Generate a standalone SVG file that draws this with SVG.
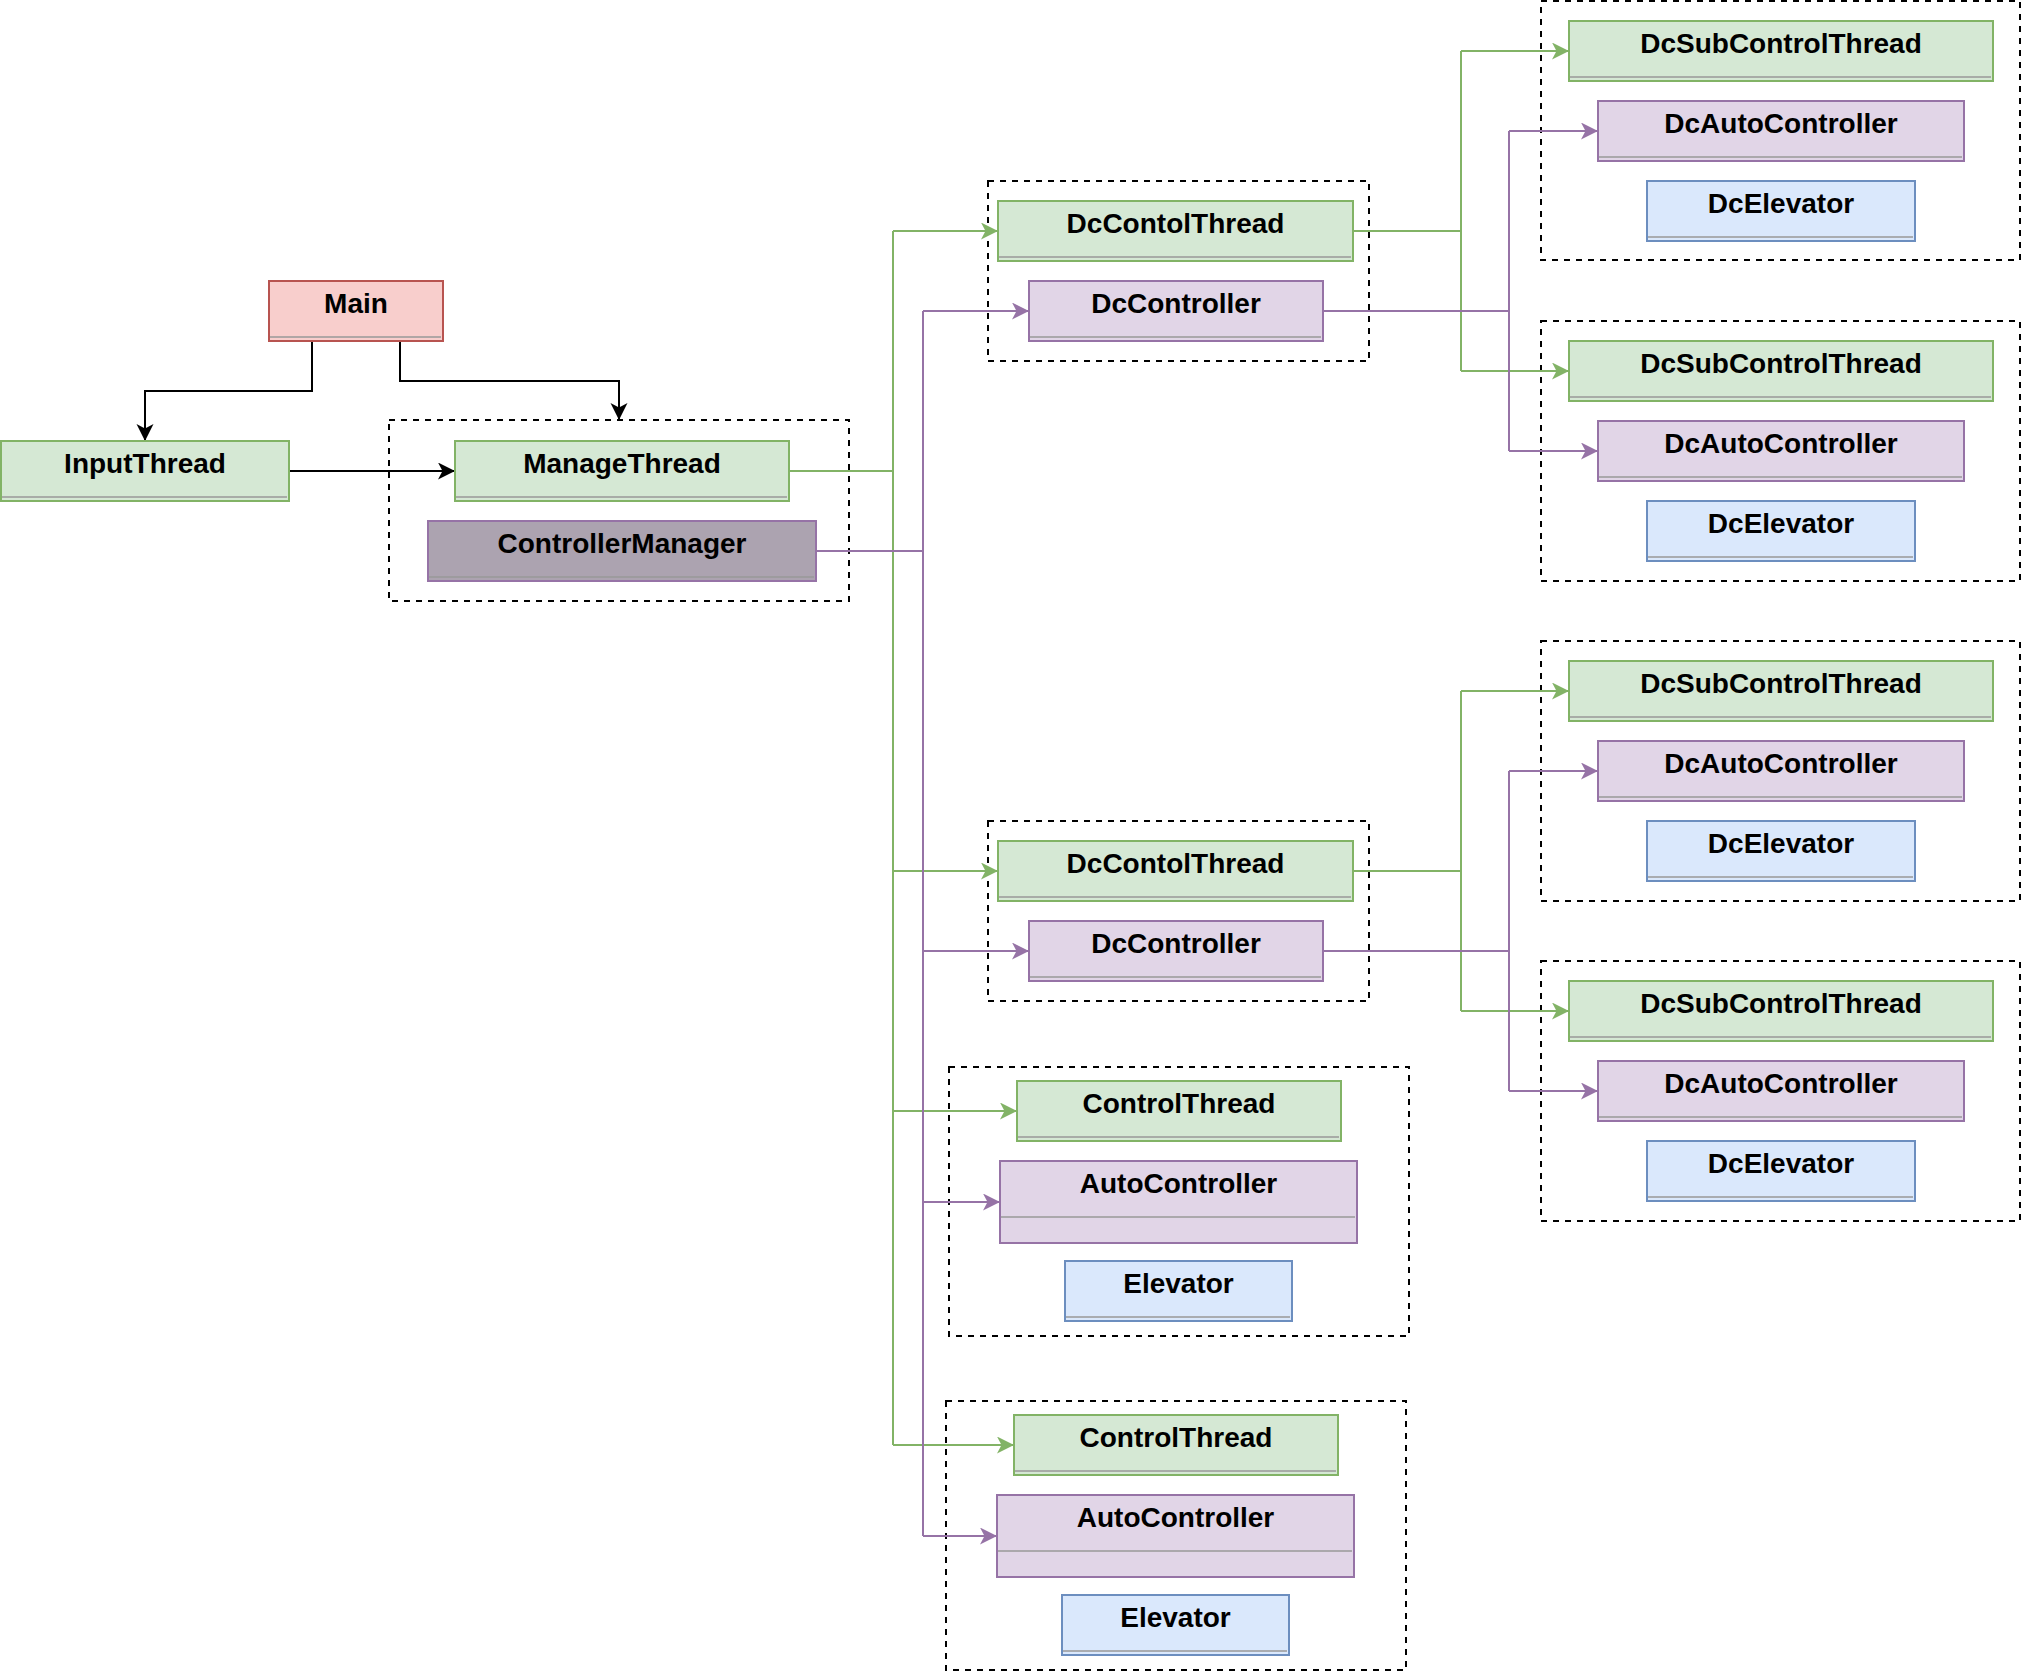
<svg xmlns="http://www.w3.org/2000/svg" width="2022" height="1672" viewBox="0 0 2022 1672">
<style>
  text { font-family: "Liberation Sans", Arial, Helvetica, sans-serif; font-weight: bold; font-size: 28px; text-anchor: middle; fill: #000000; }
  .node rect { stroke-width: 2; }
  .node line { stroke: #999999; stroke-width: 1.5; }
  .green rect { fill: #d5e8d4; stroke: #82b366; }
  .purple rect { fill: #e1d5e7; stroke: #9673a6; }
  .blue rect { fill: #dae8fc; stroke: #6c8ebf; }
  .red rect { fill: #f8cecc; stroke: #b85450; }
  .mgr rect { fill: #aca3b0; stroke: #9673a6; }
  .box { fill: none; stroke: #000000; stroke-width: 2; stroke-dasharray: 6 6; }
  .c { fill: none; stroke-width: 2; }
  .ck { stroke: #000000; marker-end: url(#ak); }
  .cg { stroke: #82b366; }
  .cp { stroke: #9673a6; }
  .ag { marker-end: url(#ag); }
  .ap { marker-end: url(#ap); }
</style>
<defs>
  <marker id="ak" markerUnits="userSpaceOnUse" markerWidth="18" markerHeight="18" refX="17" refY="8.5" orient="auto" viewBox="0 0 18 18"><path d="M0,0 L17,8.5 L0,17 L4.5,8.5 Z" fill="#000000"/></marker>
  <marker id="ag" markerUnits="userSpaceOnUse" markerWidth="18" markerHeight="18" refX="17" refY="8.5" orient="auto" viewBox="0 0 18 18"><path d="M0,0 L17,8.5 L0,17 L4.5,8.5 Z" fill="#82b366"/></marker>
  <marker id="ap" markerUnits="userSpaceOnUse" markerWidth="18" markerHeight="18" refX="17" refY="8.5" orient="auto" viewBox="0 0 18 18"><path d="M0,0 L17,8.5 L0,17 L4.5,8.5 Z" fill="#9673a6"/></marker>
</defs>
<rect x="0" y="0" width="2022" height="1672" fill="#ffffff"/>

<g id="containers">
  <rect id="grp-manage" class="box" x="389" y="420" width="460" height="181"/>
  <rect id="grp-dc1" class="box" x="988" y="181" width="381" height="180"/>
  <rect id="grp-dc2" class="box" x="988" y="821" width="381" height="180"/>
  <rect id="grp-sub1" class="box" x="1541" y="1" width="479" height="259"/>
  <rect id="grp-sub2" class="box" x="1541" y="321" width="479" height="260"/>
  <rect id="grp-sub3" class="box" x="1541" y="641" width="479" height="260"/>
  <rect id="grp-sub4" class="box" x="1541" y="961" width="479" height="260"/>
  <rect id="grp-ct1" class="box" x="949" y="1067" width="460" height="269"/>
  <rect id="grp-ct2" class="box" x="946" y="1401" width="460" height="269"/>
</g>

<g id="connectors">
  <path class="c ck" d="M312,341 V391 H145 V441"/>
  <path class="c ck" d="M400,341 V381 H619 V420"/>
  <path class="c ck" d="M289,471 H455"/>

  <path class="c cg" d="M789,471 H893"/>
  <path class="c cg" d="M893,231 V1445"/>
  <path class="c cg ag" d="M893,231 H998"/>
  <path class="c cg ag" d="M893,871 H998"/>
  <path class="c cg ag" d="M893,1111 H1017"/>
  <path class="c cg ag" d="M893,1445 H1014"/>

  <path class="c cp" d="M816,551 H923"/>
  <path class="c cp" d="M923,311 V1536"/>
  <path class="c cp ap" d="M923,311 H1029"/>
  <path class="c cp ap" d="M923,951 H1029"/>
  <path class="c cp ap" d="M923,1202 H1000"/>
  <path class="c cp ap" d="M923,1536 H997"/>

  <path class="c cg" d="M1353,231 H1461 M1461,51 V371"/>
  <path class="c cg ag" d="M1461,51 H1569"/>
  <path class="c cg ag" d="M1461,371 H1569"/>
  <path class="c cp" d="M1323,311 H1509 M1509,131 V451"/>
  <path class="c cp ap" d="M1509,131 H1598"/>
  <path class="c cp ap" d="M1509,451 H1598"/>

  <path class="c cg" d="M1353,871 H1461 M1461,691 V1011"/>
  <path class="c cg ag" d="M1461,691 H1569"/>
  <path class="c cg ag" d="M1461,1011 H1569"/>
  <path class="c cp" d="M1323,951 H1509 M1509,771 V1091"/>
  <path class="c cp ap" d="M1509,771 H1598"/>
  <path class="c cp ap" d="M1509,1091 H1598"/>
</g>

<g id="main" class="node red"><rect x="269" y="281" width="174" height="60"/><line x1="270" y1="337" x2="441" y2="337"/><text x="356" y="313">Main</text></g>
<g id="inputThread" class="node green"><rect x="1" y="441" width="288" height="60"/><line x1="2" y1="497" x2="287" y2="497"/><text x="145" y="473">InputThread</text></g>
<g id="manageThread" class="node green"><rect x="455" y="441" width="334" height="60"/><line x1="456" y1="497" x2="787" y2="497"/><text x="622" y="473">ManageThread</text></g>
<g id="controllerManager" class="node mgr"><rect x="428" y="521" width="388" height="60"/><line x1="429" y1="577" x2="814" y2="577"/><text x="622" y="553">ControllerManager</text></g>

<g id="dcControlThread1" class="node green"><rect x="998" y="201" width="355" height="60"/><line x1="999" y1="257" x2="1351" y2="257"/><text x="1175.5" y="233">DcContolThread</text></g>
<g id="dcController1" class="node purple"><rect x="1029" y="281" width="294" height="60"/><line x1="1030" y1="337" x2="1321" y2="337"/><text x="1176" y="313">DcController</text></g>

<g id="dcSubControlThread1" class="node green"><rect x="1569" y="21" width="424" height="60"/><line x1="1570" y1="77" x2="1991" y2="77"/><text x="1781" y="53">DcSubControlThread</text></g>
<g id="dcAutoController1" class="node purple"><rect x="1598" y="101" width="366" height="60"/><line x1="1599" y1="157" x2="1962" y2="157"/><text x="1781" y="133">DcAutoController</text></g>
<g id="dcElevator1" class="node blue"><rect x="1647" y="181" width="268" height="60"/><line x1="1648" y1="237" x2="1913" y2="237"/><text x="1781" y="213">DcElevator</text></g>

<g id="dcSubControlThread2" class="node green"><rect x="1569" y="341" width="424" height="60"/><line x1="1570" y1="397" x2="1991" y2="397"/><text x="1781" y="373">DcSubControlThread</text></g>
<g id="dcAutoController2" class="node purple"><rect x="1598" y="421" width="366" height="60"/><line x1="1599" y1="477" x2="1962" y2="477"/><text x="1781" y="453">DcAutoController</text></g>
<g id="dcElevator2" class="node blue"><rect x="1647" y="501" width="268" height="60"/><line x1="1648" y1="557" x2="1913" y2="557"/><text x="1781" y="533">DcElevator</text></g>

<g id="dcControlThread2" class="node green"><rect x="998" y="841" width="355" height="60"/><line x1="999" y1="897" x2="1351" y2="897"/><text x="1175.5" y="873">DcContolThread</text></g>
<g id="dcController2" class="node purple"><rect x="1029" y="921" width="294" height="60"/><line x1="1030" y1="977" x2="1321" y2="977"/><text x="1176" y="953">DcController</text></g>

<g id="dcSubControlThread3" class="node green"><rect x="1569" y="661" width="424" height="60"/><line x1="1570" y1="717" x2="1991" y2="717"/><text x="1781" y="693">DcSubControlThread</text></g>
<g id="dcAutoController3" class="node purple"><rect x="1598" y="741" width="366" height="60"/><line x1="1599" y1="797" x2="1962" y2="797"/><text x="1781" y="773">DcAutoController</text></g>
<g id="dcElevator3" class="node blue"><rect x="1647" y="821" width="268" height="60"/><line x1="1648" y1="877" x2="1913" y2="877"/><text x="1781" y="853">DcElevator</text></g>

<g id="dcSubControlThread4" class="node green"><rect x="1569" y="981" width="424" height="60"/><line x1="1570" y1="1037" x2="1991" y2="1037"/><text x="1781" y="1013">DcSubControlThread</text></g>
<g id="dcAutoController4" class="node purple"><rect x="1598" y="1061" width="366" height="60"/><line x1="1599" y1="1117" x2="1962" y2="1117"/><text x="1781" y="1093">DcAutoController</text></g>
<g id="dcElevator4" class="node blue"><rect x="1647" y="1141" width="268" height="60"/><line x1="1648" y1="1197" x2="1913" y2="1197"/><text x="1781" y="1173">DcElevator</text></g>

<g id="controlThread1" class="node green"><rect x="1017" y="1081" width="324" height="60"/><line x1="1018" y1="1137" x2="1339" y2="1137"/><text x="1179" y="1113">ControlThread</text></g>
<g id="autoController1" class="node purple"><rect x="1000" y="1161" width="357" height="82"/><line x1="1001" y1="1217" x2="1355" y2="1217"/><text x="1178.5" y="1193">AutoController</text></g>
<g id="elevator1" class="node blue"><rect x="1065" y="1261" width="227" height="60"/><line x1="1066" y1="1317" x2="1290" y2="1317"/><text x="1178.5" y="1293">Elevator</text></g>

<g id="controlThread2" class="node green"><rect x="1014" y="1415" width="324" height="60"/><line x1="1015" y1="1471" x2="1336" y2="1471"/><text x="1176" y="1447">ControlThread</text></g>
<g id="autoController2" class="node purple"><rect x="997" y="1495" width="357" height="82"/><line x1="998" y1="1551" x2="1352" y2="1551"/><text x="1175.5" y="1527">AutoController</text></g>
<g id="elevator2" class="node blue"><rect x="1062" y="1595" width="227" height="60"/><line x1="1063" y1="1651" x2="1287" y2="1651"/><text x="1175.5" y="1627">Elevator</text></g>
</svg>
